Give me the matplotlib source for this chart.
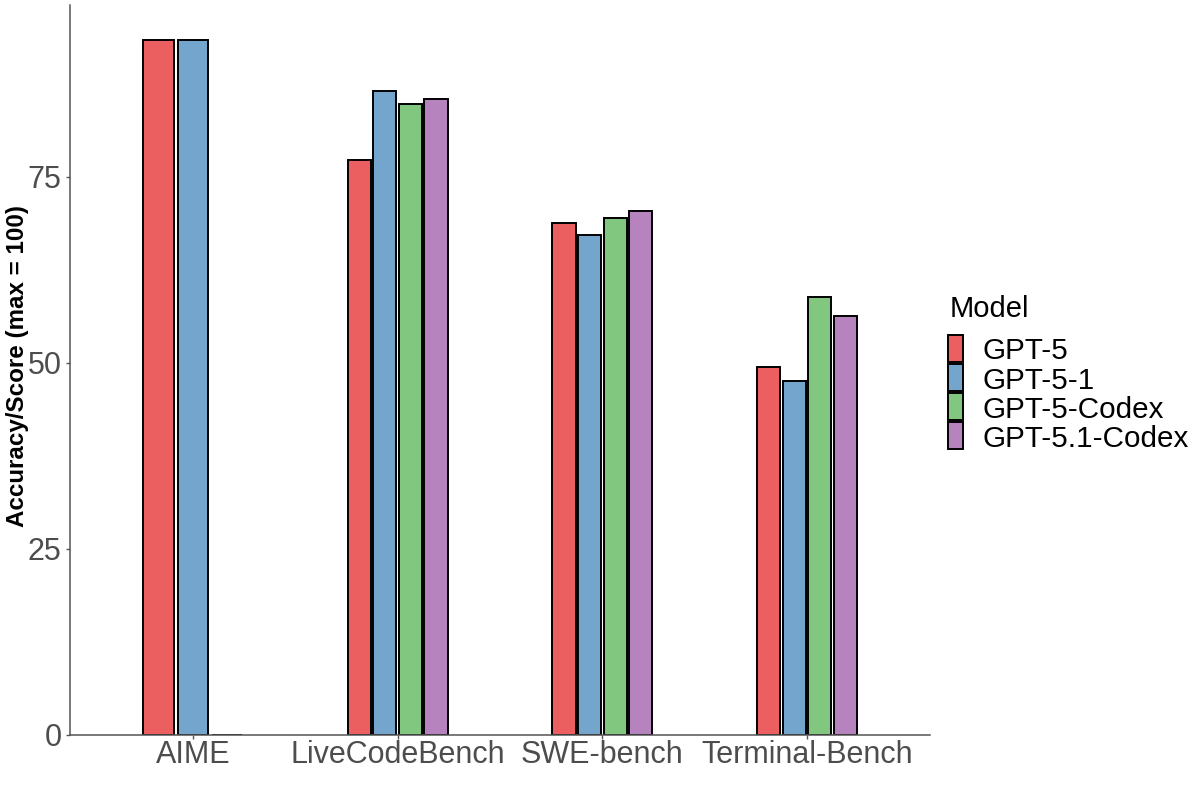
import numpy as np
import matplotlib
matplotlib.use("Agg")
import matplotlib.pyplot as plt
from matplotlib.patches import Rectangle

plt.rcParams['font.family'] = ['Liberation Sans', 'DejaVu Sans']

benchmarks = ["AIME", "LiveCodeBench", "SWE-bench", "Terminal-Bench"]
models = ["GPT-5", "GPT-5-1", "GPT-5-Codex", "GPT-5.1-Codex"]

# scores per model, one value per benchmark (nan = not reported)
gpt5 = [93.4, 77.2, 68.8, 49.4]
gpt5_1 = [93.3, 86.5, 67.2, 47.6]
gpt5_codex = [0.0, 84.7, 69.4, 58.8]
gpt51_codex = [np.nan, 85.4, 70.4, 56.3]

y_ticks = [0, 25, 50, 75]

# Set1 at alpha 0.7 over white
colors = ["#EC5F60", "#73A5CD", "#82C780", "#B783BF"]

W, H = 1200, 800


def px(x, y):
    # pixel position (from top left) -> figure fraction
    return x / W, 1 - y / H


def draw_legend(fig):
    tx, ty = px(950, 317)
    fig.text(tx, ty, "Model", fontsize=21, va="baseline", ha="left")
    for i, m in enumerate(models):
        top = 335 + 29 * i
        x0, y0 = px(948, top + 27)
        fig.patches.append(Rectangle((x0, y0), 15 / W, 27 / H, transform=fig.transFigure,
                                     facecolor=colors[i], edgecolor="black", linewidth=1.4))
        lx, ly = px(982, top + 13.5)
        fig.text(lx, ly, m, fontsize=21.3, va="center_baseline", ha="left")


def main():
    scores = np.array([gpt5, gpt5_1, gpt5_codex, gpt51_codex])
    fig = plt.figure(figsize=(W / 100, H / 100), dpi=100)
    ax = fig.add_axes([70 / W, 1 - 734.7 / H, 860 / W, 729.7 / H])

    total = 0.5
    pad = 0.1
    for j, bench in enumerate(benchmarks):
        present = [i for i in range(len(models)) if not np.isnan(scores[i, j])]
        slot = total / len(present)
        for k, i in enumerate(present):
            xc = j + 1 - total / 2 + slot * (k + 0.5)
            ax.bar(xc, scores[i, j], width=slot * (1 - pad), color=colors[i],
                   edgecolor="black", linewidth=1.4, zorder=2)

    ymax = np.nanmax(scores) * 1.05
    ax.set_ylim(0, ymax)
    ax.set_xlim(0.4, len(benchmarks) + 0.6)
    ax.set_xticks(np.arange(1, len(benchmarks) + 1))
    ax.set_xticklabels(benchmarks)
    ax.set_yticks(y_ticks)

    for s in ["top", "right"]:
        ax.spines[s].set_visible(False)
    for s in ["left", "bottom"]:
        ax.spines[s].set_color("#555555")
        ax.spines[s].set_linewidth(1.1)

    ax.tick_params(axis="both", colors="#555555", labelcolor="#4D4D4D",
                   labelsize=22, length=3, width=1.0)
    ax.tick_params(axis="x", pad=1)
    ax.tick_params(axis="y", pad=3)

    ax.set_ylabel("Accuracy/Score (max = 100)", fontsize=17.4, fontweight="bold")
    ax.yaxis.set_label_coords(-0.048, 0.505)

    draw_legend(fig)

    fig.savefig("out.png", dpi=100, facecolor="white")


if __name__ == '__main__':
    main()
